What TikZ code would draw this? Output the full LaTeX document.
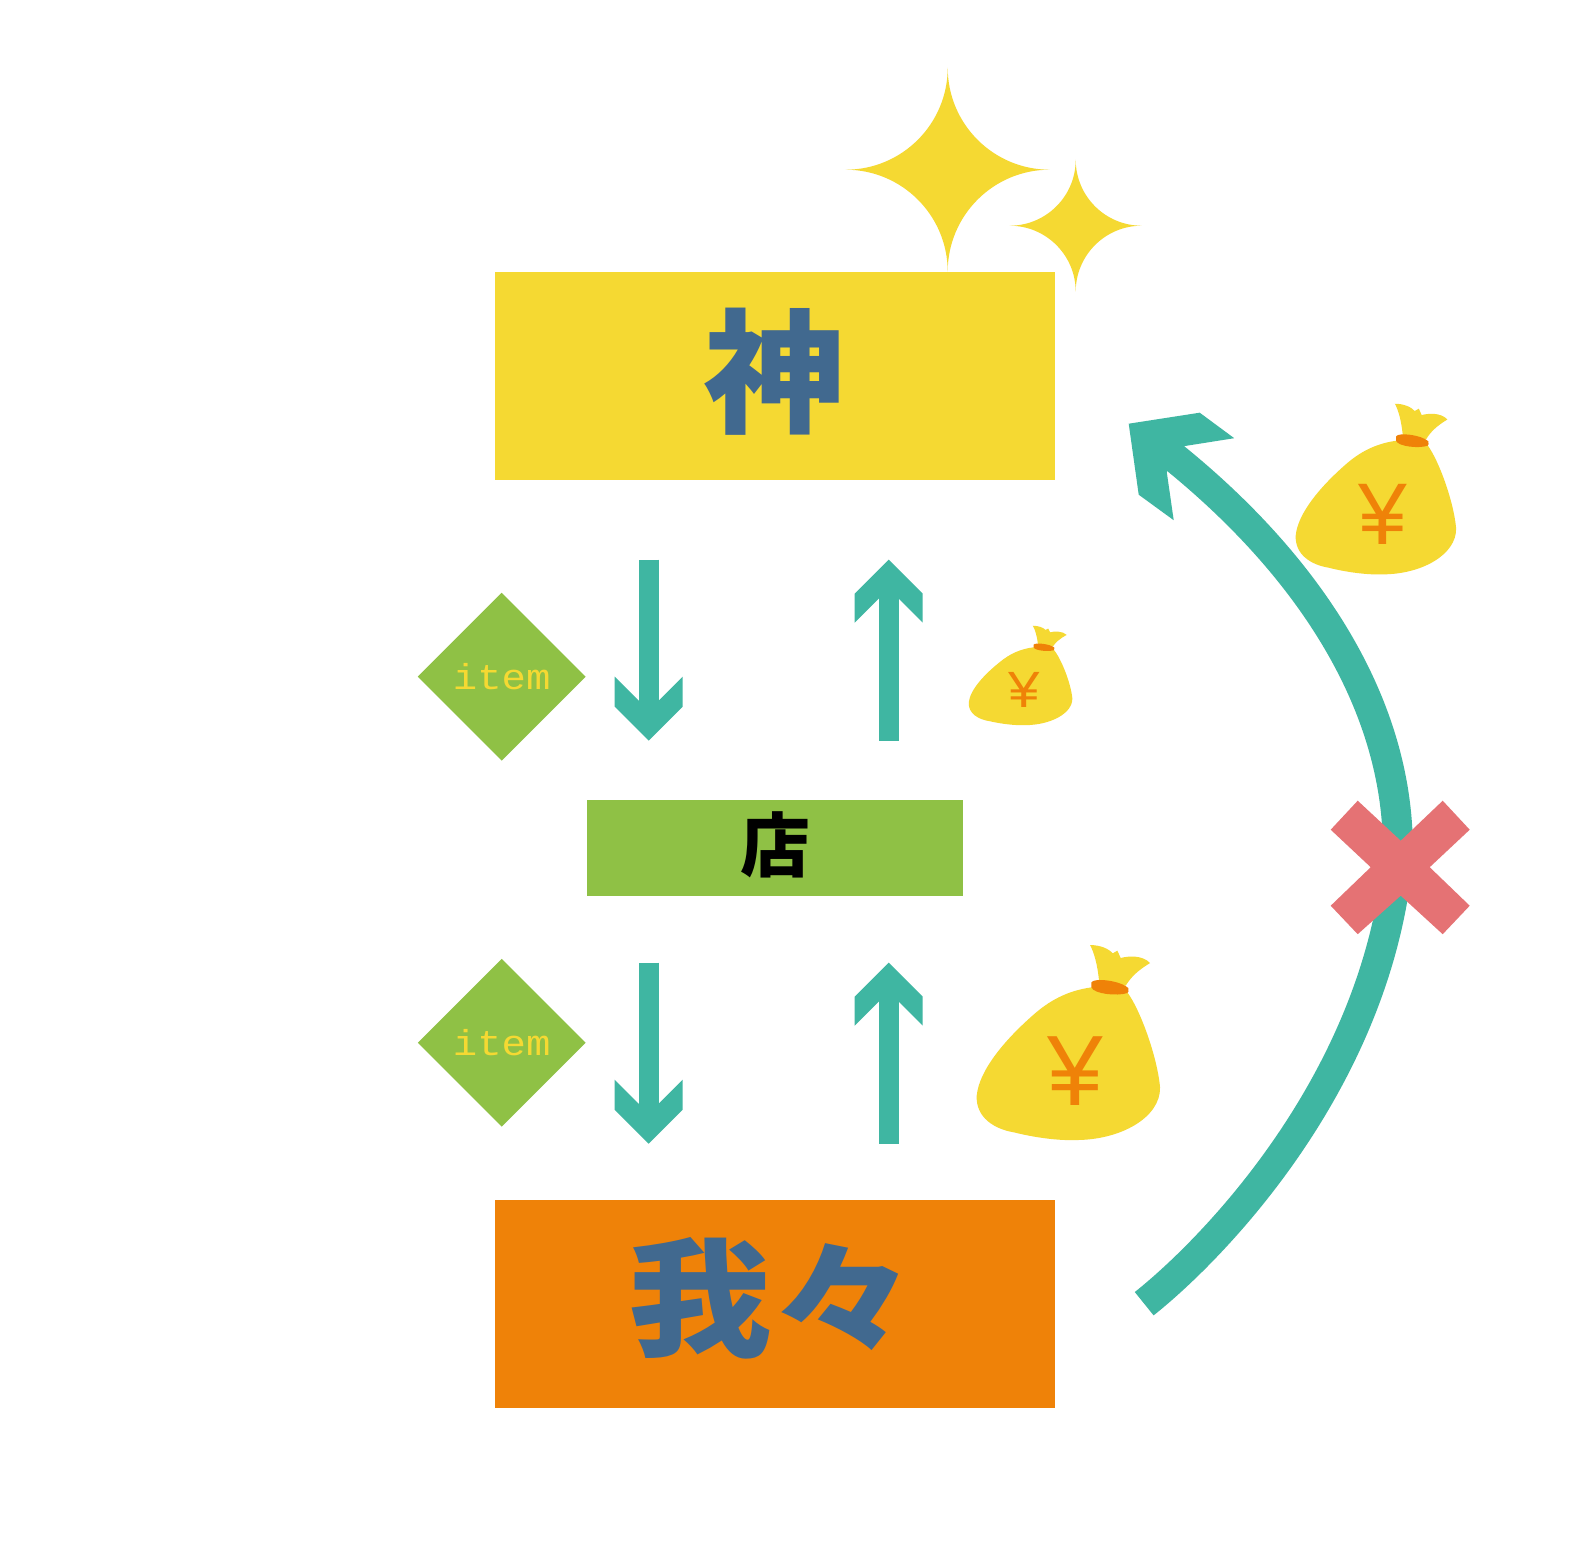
\documentclass[tikz,border=0pt]{standalone}
\usepackage{fontspec}
\usepackage{graphicx}
\usetikzlibrary{shapes.geometric}
\newfontfamily\cjkfont{Noto Sans CJK JP}
\newfontfamily\yenfont{Liberation Sans}
\newfontfamily\itemfont{Liberation Mono}
\definecolor{cyellow}{HTML}{F5D932}
\definecolor{cblue}{HTML}{41698F}
\definecolor{cteal}{HTML}{3FB6A2}
\definecolor{cgreen}{HTML}{8FC145}
\definecolor{corange}{HTML}{EF8208}
\definecolor{cred}{HTML}{E57274}
\tikzset{
  box/.style={rectangle,inner sep=0pt,outer sep=0pt},
  kanji/.style={inner sep=0pt,font={\cjkfont\bfseries\fontsize{#1}{#1}\selectfont}},
  itemdiamond/.style={diamond,fill=cgreen,inner sep=0pt,minimum width=168pt,minimum height=168pt,aspect=1,text=cyellow,font={\itemfont\fontsize{36}{36}\selectfont}},
  shaft/.style={draw=cteal,line width=20pt},
  bigcurve/.style={draw=cteal,line width=30pt},
  star/.pic={
    \fill[cyellow] (0,-1) .. controls (0,-0.448) and (0.448,0) .. (1,0)
      .. controls (0.448,0) and (0,0.448) .. (0,1)
      .. controls (0,0.448) and (-0.448,0) .. (-1,0)
      .. controls (-0.448,0) and (0,-0.448) .. (0,-1) -- cycle;
  },
  headdown/.pic={
    \fill[cteal] (0,0) -- (-34,-34) -- (-34,-64) -- (-10,-40) -- (10,-40) -- (34,-64) -- (34,-34) -- cycle;
  },
  headup/.pic={
    \fill[cteal] (0,0) -- (34,34) -- (34,63) -- (10,39) -- (-10,39) -- (-34,63) -- (-34,34) -- cycle;
  },
  moneybag/.pic={
    \begin{scope}[x=0.33333pt,y=-0.33333pt]
    \fill[cyellow] (415,150) .. controls (410,100) and (400,65) .. (388,43)
      .. controls (420,43) and (445,55) .. (456,68) -- (470,60) -- (480,82)
      .. controls (500,76) and (545,72) .. (568,97)
      .. controls (530,120) and (510,140) .. (495,165) -- cycle;
    \fill[cyellow] (392,170) .. controls (320,180) and (265,210) .. (215,255)
      .. controls (130,330) and (55,420) .. (48,495)
      .. controls (45,560) and (100,595) .. (160,605)
      .. controls (220,620) and (290,630) .. (345,628)
      .. controls (480,628) and (600,560) .. (598,470)
      .. controls (590,380) and (540,240) .. (500,185) -- cycle;
    \fill[corange] (392,155) .. controls (400,140) and (480,150) .. (503,172)
      .. controls (505,180) and (503,185) .. (500,187)
      .. controls (470,197) and (400,190) .. (392,170) -- cycle;
    \node[inner sep=0pt,text=corange,transform shape,font={\yenfont\fontsize{100}{100}\selectfont}] (yen) at (345,422) {¥};
    \end{scope}
  },
}
\begin{document}
\begin{tikzpicture}[x=1pt,y=-1pt]
\useasboundingbox[fill=white] (-0.7,-0.7) rectangle (1567.3,1567.3);
% stars
\pic[scale=102] at (947,169) {star};
\pic[scale=66] at (1075,225) {star};
% boxes
\node[box,fill=cyellow,minimum width=560pt,minimum height=208pt] (god) at (774,375) {};
\node[kanji=134,text=cblue] (godt) at (774,371) {\scalebox{1.06}[1]{神}};
\node[box,fill=cgreen,minimum width=376pt,minimum height=96pt] (shop) at (774,847) {};
\node[kanji=70,text=black] (shopt) at (775,844) {店};
\node[box,fill=corange,minimum width=560pt,minimum height=208pt] (us) at (774,1303) {};
\node[kanji=128,text=cblue] (ust) at (771,1298) {\scalebox{1.12}[1]{我々}};
% item diamonds
\node[itemdiamond] (itemA) at (501,676) {\scalebox{1.13}[1]{item}};
\node[itemdiamond] (itemB) at (501,1042) {\scalebox{1.13}[1]{item}};
% straight arrows
\coordinate (d1s) at (648,559); \coordinate (d1e) at (648,705);
\coordinate (u1s) at (888,740); \coordinate (u1e) at (888,595);
\coordinate (d2s) at (648,962); \coordinate (d2e) at (648,1108);
\coordinate (u2s) at (888,1143); \coordinate (u2e) at (888,998);
\draw[shaft] (d1s) -- (d1e);
\draw[shaft] (u1s) -- (u1e);
\draw[shaft] (d2s) -- (d2e);
\draw[shaft] (u2s) -- (u2e);
\pic at (648,740) {headdown};
\pic at (888,559) {headup};
\pic at (648,1143) {headdown};
\pic at (888,962) {headup};
% big curved arrow
\coordinate (cs) at (1143.5,1303);
\coordinate (cm) at (1397,860);
\coordinate (ce) at (1160,446);
\draw[bigcurve] (cs) .. controls (1215,1246) and (1375,1080) .. (cm)
  .. controls (1402,700) and (1300,555) .. (ce);
\fill[cteal] (1128,423) -- (1199,412) -- (1233.5,437.5) -- (1183,445.5) -- (1166,471) -- (1173,519.5) -- (1138,494) -- cycle;
% red cross
\fill[cred] (1357,800) -- (1400,840) -- (1442,800) -- (1469,829) -- (1429,866.5) -- (1469,905) -- (1442,933.5) -- (1400,895) -- (1357,933.5) -- (1330,905) -- (1370,866.5) -- (1330,829) -- cycle;
% money bags
\pic (bagA) at (960,930) {moneybag};
\pic (bagB) [scale=.875] at (1281,390.5) {moneybag};
\pic (bagC) [xscale=.565,yscale=.51] at (959,617.7) {moneybag};
\end{tikzpicture}
\end{document}
